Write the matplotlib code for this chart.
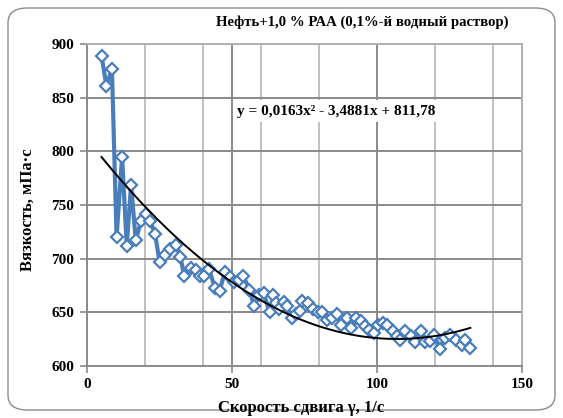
import matplotlib
matplotlib.use("Agg")
import matplotlib.pyplot as plt
import numpy as np
from matplotlib.patches import FancyBboxPatch
from matplotlib.ticker import FixedLocator

title = "Нефть+1,0 % РАА (0,1%-й водный раствор)"
xlabel = "Скорость сдвига γ, 1/с"
ylabel = "Вязкость, мПа·с"
equation = "y = 0,0163x² - 3,4881x + 811,78"

shear_rate = [5.0, 6.7, 8.6, 10.2, 12.1, 13.7, 15.2, 16.8, 18.6, 20.2,
              21.8, 23.5, 25.0, 27.0, 28.7, 30.7, 32.2, 33.5, 35.8, 37.5,
              38.9, 40.4, 42.1, 44.1, 45.7, 47.6, 49.3, 50.7, 52.3, 53.9,
              56.0, 57.6, 59.2, 60.9, 63.0, 64.3, 65.0, 66.1, 67.8, 68.8,
              70.7, 72.2, 73.4, 74.2, 76.3, 78.0, 79.5, 81.1, 82.9, 84.5,
              86.1, 87.5, 89.6, 91.0, 92.7, 94.4, 96.0, 97.3, 98.8, 100.5,
              102.0, 103.5, 105.4, 106.8, 108.1, 109.7, 111.8, 113.2, 115.0, 116.7,
              118.2, 119.8, 121.6, 123.6, 125.1, 127.1, 129.2, 130.3, 132.2]
viscosity = [889, 861, 877, 720, 795, 712, 769, 717, 735, 742,
             735, 723, 697, 703, 709, 713, 702, 684, 691, 689,
             684, 684, 690, 673, 670, 688, 683, 678, 680, 684,
             671, 656, 666, 668, 650, 666, 659, 653, 660, 656,
             645, 648, 651, 661, 659, 653, 650, 650, 643, 645,
             648, 638, 645, 635, 645, 642, 637, 634, 631, 638,
             640, 638, 633, 628, 624, 633, 628, 622, 633, 622,
             623, 629, 616, 626, 629, 624, 620, 624, 617]

trend_coef = [0.0163, -3.4881, 811.78]

x_ticks = [0, 50, 100, 150]
y_ticks = [600, 650, 700, 750, 800, 850, 900]

W, H = 563, 418
fig = plt.figure(figsize=(W / 100, H / 100), dpi=100)
fig.patch.set_facecolor("white")

border = FancyBboxPatch((8 / W, 8 / H), (W - 16) / W, (H - 16) / H,
                        boxstyle="round,pad=0,rounding_size=0.035",
                        transform=fig.transFigure, facecolor="none",
                        edgecolor="#8c8c8c", linewidth=1.0, zorder=-1)
fig.patches.append(border)

ax = fig.add_axes([87 / W, 1 - 366 / H, (522 - 87) / W, (366 - 44) / H])
ax.set_zorder(1)
ax.patch.set_alpha(0)
ax.set_xlim(0, 150)
ax.set_ylim(600, 900)

serif = "Liberation Serif"

for xv in [20, 40, 60, 80, 120, 140]:
    ax.axvline(xv, color="#c0c0c0", lw=1.4, zorder=1)
for xv in [50, 100]:
    ax.axvline(xv, color="#8a8a8a", lw=1.4, zorder=1)
for yv in y_ticks[1:]:
    ax.axhline(yv, color="#8a8a8a", lw=1.4, zorder=1)

for s in ["top", "right"]:
    ax.spines[s].set_color("#b0b0b0")
    ax.spines[s].set_linewidth(1.4)
for s in ["left", "bottom"]:
    ax.spines[s].set_color("#8a8a8a")
    ax.spines[s].set_linewidth(1.4)

ax.xaxis.set_major_locator(FixedLocator(x_ticks))
ax.yaxis.set_major_locator(FixedLocator(y_ticks))
ax.tick_params(axis="both", direction="out", length=5, width=1.2,
               color="#8a8a8a", labelsize=11)
ax.tick_params(axis="y", pad=4)
ax.tick_params(axis="x", pad=4)
ax.set_xticklabels([str(v) for v in x_ticks], fontfamily=serif, fontweight="bold")
ax.set_yticklabels([str(v) for v in y_ticks], fontfamily=serif, fontweight="bold")

ax.plot(shear_rate, viscosity, color="#4a7ebb", lw=3.0, marker="D",
        markersize=6, markerfacecolor="white", markeredgecolor="#4a7ebb",
        markeredgewidth=1.6, zorder=3, clip_on=False)

xt = np.linspace(min(shear_rate), max(shear_rate), 200)
ax.plot(xt, np.polyval(trend_coef, xt), color="black", lw=1.4, zorder=4)

ax.text(237 / W, 1 - 111 / H, equation, transform=fig.transFigure,
        fontfamily=serif, fontweight="bold", fontsize=11, ha="left", va="center",
        bbox=dict(facecolor="white", edgecolor="none", pad=3), zorder=5)

fig.text(362 / W, 1 - 22 / H, title, fontfamily=serif, fontweight="bold",
         fontsize=10.6, ha="center", va="center")
fig.text(301 / W, 1 - 408 / H, xlabel, fontfamily=serif, fontweight="bold",
         fontsize=12, ha="center", va="center")
fig.text(28 / W, 1 - 210 / H, ylabel, fontfamily=serif, fontweight="bold",
         fontsize=12, ha="center", va="center", rotation=90)

fig.savefig("out.png", dpi=100)
